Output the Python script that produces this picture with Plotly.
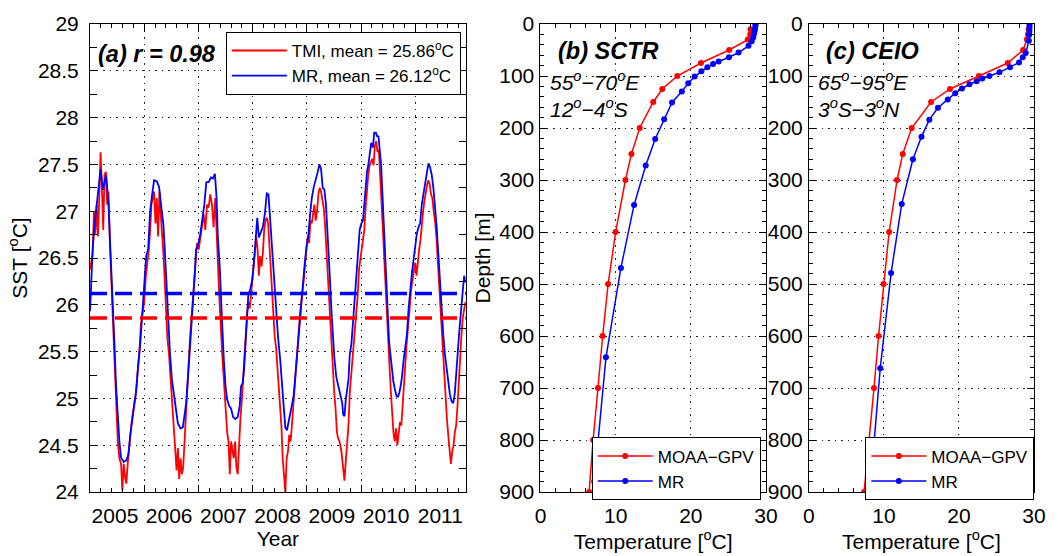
import plotly.graph_objects as go

# ---------------- Panel (a): SST time series ----------------
mr_year = [2005.000, 2005.024, 2005.049, 2005.085, 2005.122, 2005.158, 2005.195, 2005.238, 2005.299, 2005.341,
           2005.378, 2005.402, 2005.427, 2005.451, 2005.481, 2005.512, 2005.542, 2005.573, 2005.622, 2005.670,
           2005.707, 2005.743, 2005.780, 2005.817, 2005.853, 2005.890, 2005.926, 2005.963, 2006.000, 2006.036,
           2006.073, 2006.109, 2006.146, 2006.182, 2006.231, 2006.274, 2006.316, 2006.353, 2006.383, 2006.414,
           2006.444, 2006.475, 2006.511, 2006.548, 2006.584, 2006.621, 2006.670, 2006.712, 2006.743, 2006.773,
           2006.804, 2006.834, 2006.865, 2006.895, 2006.926, 2006.956, 2006.993, 2007.035, 2007.072, 2007.108,
           2007.145, 2007.188, 2007.230, 2007.267, 2007.304, 2007.334, 2007.358, 2007.395, 2007.419, 2007.444,
           2007.468, 2007.499, 2007.529, 2007.566, 2007.602, 2007.639, 2007.681, 2007.724, 2007.761, 2007.785,
           2007.815, 2007.840, 2007.864, 2007.895, 2007.919, 2007.956, 2007.992, 2008.023, 2008.053, 2008.084,
           2008.114, 2008.151, 2008.187, 2008.224, 2008.260, 2008.291, 2008.321, 2008.358, 2008.395, 2008.431,
           2008.468, 2008.504, 2008.541, 2008.571, 2008.602, 2008.632, 2008.663, 2008.693, 2008.724, 2008.754,
           2008.785, 2008.815, 2008.846, 2008.882, 2008.919, 2008.955, 2008.992, 2009.029, 2009.059, 2009.090,
           2009.127, 2009.163, 2009.200, 2009.230, 2009.261, 2009.291, 2009.322, 2009.352, 2009.377, 2009.401,
           2009.425, 2009.450, 2009.474, 2009.505, 2009.541, 2009.578, 2009.614, 2009.651, 2009.668, 2009.693,
           2009.717, 2009.741, 2009.766, 2009.790, 2009.820, 2009.851, 2009.881, 2009.912, 2009.942, 2009.973,
           2010.004, 2010.034, 2010.058, 2010.083, 2010.107, 2010.131, 2010.156, 2010.186, 2010.217, 2010.241,
           2010.272, 2010.296, 2010.320, 2010.345, 2010.369, 2010.393, 2010.418, 2010.442, 2010.466, 2010.491,
           2010.515, 2010.540, 2010.564, 2010.594, 2010.625, 2010.655, 2010.680, 2010.704, 2010.728, 2010.753,
           2010.783, 2010.814, 2010.844, 2010.875, 2010.905, 2010.936, 2010.966, 2010.997, 2011.027, 2011.058,
           2011.088, 2011.118, 2011.149, 2011.179, 2011.210, 2011.240, 2011.271, 2011.301, 2011.332, 2011.362,
           2011.393, 2011.423, 2011.454, 2011.484, 2011.515, 2011.545, 2011.576, 2011.606, 2011.637, 2011.667,
           2011.698, 2011.728, 2011.759, 2011.789, 2011.820, 2011.850, 2011.874, 2011.899, 2011.923]
mr_sst = [25.93, 26.27, 26.59, 26.86, 27.04, 27.28, 27.45, 27.23, 27.39, 27.07,
          26.59, 26.31, 26.03, 25.58, 25.13, 24.78, 24.54, 24.37, 24.32, 24.34,
          24.40, 24.61, 24.78, 24.92, 25.09, 25.37, 25.58, 25.89, 26.17, 26.52,
          26.60, 27.00, 27.18, 27.33, 27.32, 27.26, 27.04, 26.86, 26.55, 26.17,
          25.79, 25.48, 25.20, 25.02, 24.85, 24.73, 24.68, 24.69, 24.82, 24.95,
          25.20, 25.44, 25.68, 25.96, 26.27, 26.59, 26.64, 26.76, 26.90, 27.07,
          27.31, 27.31, 27.36, 27.35, 27.40, 27.14, 26.72, 26.38, 26.03, 25.68,
          25.41, 25.13, 24.99, 24.92, 24.89, 24.80, 24.78, 24.80, 24.92, 25.13,
          25.16, 25.30, 25.54, 25.89, 26.10, 26.17, 26.27, 26.45, 26.72, 26.93,
          26.72, 26.78, 26.83, 26.97, 27.19, 27.18, 26.93, 26.55, 26.20, 25.93,
          25.65, 25.44, 25.20, 24.92, 24.69, 24.66, 24.75, 24.85, 24.94, 25.02,
          25.23, 25.44, 25.68, 25.96, 26.17, 26.41, 26.62, 26.76, 26.97, 27.14,
          27.26, 27.33, 27.42, 27.50, 27.45, 27.25, 27.23, 27.07, 26.83, 26.59,
          26.27, 25.96, 25.68, 25.44, 25.23, 25.13, 25.02, 24.95, 24.83, 24.81,
          24.99, 25.11, 25.20, 25.47, 25.58, 25.82, 26.03, 26.27, 26.55, 26.80,
          26.87, 26.90, 27.07, 27.28, 27.42, 27.49, 27.63, 27.73, 27.68, 27.84,
          27.84, 27.80, 27.80, 27.66, 27.49, 27.18, 26.83, 26.48, 26.13, 25.86,
          25.61, 25.47, 25.30, 25.18, 25.09, 25.02, 25.02, 25.06, 25.13, 25.23,
          25.41, 25.55, 25.68, 25.96, 26.20, 26.34, 26.48, 26.64, 26.76, 26.83,
          26.87, 27.07, 27.18, 27.28, 27.42, 27.51, 27.47, 27.39, 27.25, 27.07,
          26.83, 26.55, 26.24, 25.96, 25.68, 25.47, 25.30, 25.15, 25.04, 24.97,
          24.95, 25.06, 25.27, 25.55, 25.79, 25.96, 26.13, 26.31, 26.24]

tmi_year = [2005.000, 2005.024, 2005.049, 2005.073, 2005.098, 2005.122, 2005.146, 2005.171, 2005.195, 2005.219,
            2005.244, 2005.268, 2005.293, 2005.317, 2005.341, 2005.366, 2005.390, 2005.420, 2005.451, 2005.481,
            2005.512, 2005.542, 2005.573, 2005.597, 2005.622, 2005.646, 2005.670, 2005.695, 2005.719, 2005.743,
            2005.768, 2005.792, 2005.817, 2005.847, 2005.877, 2005.908, 2005.938, 2005.969, 2006.000, 2006.030,
            2006.060, 2006.085, 2006.109, 2006.133, 2006.158, 2006.182, 2006.207, 2006.231, 2006.255, 2006.280,
            2006.304, 2006.328, 2006.353, 2006.377, 2006.402, 2006.426, 2006.457, 2006.487, 2006.517, 2006.548,
            2006.572, 2006.597, 2006.621, 2006.645, 2006.670, 2006.694, 2006.718, 2006.743, 2006.767, 2006.792,
            2006.822, 2006.853, 2006.883, 2006.913, 2006.944, 2006.974, 2007.005, 2007.035, 2007.066, 2007.096,
            2007.127, 2007.157, 2007.188, 2007.218, 2007.249, 2007.279, 2007.310, 2007.334, 2007.358, 2007.383,
            2007.407, 2007.438, 2007.468, 2007.499, 2007.529, 2007.554, 2007.578, 2007.602, 2007.627, 2007.651,
            2007.676, 2007.700, 2007.724, 2007.749, 2007.773, 2007.797, 2007.822, 2007.846, 2007.871, 2007.895,
            2007.919, 2007.944, 2007.968, 2007.992, 2008.017, 2008.041, 2008.066, 2008.090, 2008.114, 2008.139,
            2008.163, 2008.187, 2008.212, 2008.236, 2008.260, 2008.285, 2008.309, 2008.334, 2008.358, 2008.382,
            2008.407, 2008.431, 2008.455, 2008.480, 2008.504, 2008.529, 2008.553, 2008.577, 2008.602, 2008.626,
            2008.650, 2008.675, 2008.699, 2008.723, 2008.748, 2008.772, 2008.797, 2008.821, 2008.845, 2008.870,
            2008.894, 2008.919, 2008.943, 2008.967, 2008.992, 2009.016, 2009.040, 2009.065, 2009.089, 2009.114,
            2009.138, 2009.162, 2009.187, 2009.211, 2009.236, 2009.260, 2009.284, 2009.309, 2009.333, 2009.358,
            2009.382, 2009.406, 2009.431, 2009.455, 2009.479, 2009.504, 2009.528, 2009.553, 2009.577, 2009.601,
            2009.637, 2009.668, 2009.692, 2009.717, 2009.741, 2009.766, 2009.790, 2009.814, 2009.839, 2009.863,
            2009.888, 2009.912, 2009.936, 2009.961, 2009.985, 2010.009, 2010.034, 2010.058, 2010.083, 2010.107,
            2010.131, 2010.156, 2010.180, 2010.205, 2010.229, 2010.253, 2010.278, 2010.302, 2010.326, 2010.351,
            2010.375, 2010.399, 2010.424, 2010.448, 2010.473, 2010.497, 2010.521, 2010.546, 2010.570, 2010.595,
            2010.619, 2010.643, 2010.668, 2010.692, 2010.716, 2010.741, 2010.765, 2010.790, 2010.814, 2010.838,
            2010.869, 2010.899, 2010.924, 2010.948, 2010.972, 2010.997, 2011.021, 2011.045, 2011.070, 2011.094,
            2011.118, 2011.143, 2011.167, 2011.192, 2011.216, 2011.240, 2011.265, 2011.289, 2011.313, 2011.338,
            2011.362, 2011.387, 2011.411, 2011.435, 2011.466, 2011.496, 2011.527, 2011.557, 2011.582, 2011.606,
            2011.630, 2011.655, 2011.679, 2011.704, 2011.728, 2011.752, 2011.777, 2011.801, 2011.825, 2011.850,
            2011.874, 2011.899, 2011.923]
tmi_sst = [26.38, 26.45, 26.55, 27.00, 26.76, 27.07, 26.73, 27.14, 27.63, 27.25,
           26.80, 27.39, 27.42, 27.07, 27.21, 26.66, 26.31, 25.75, 25.23, 24.89,
           24.54, 24.36, 24.30, 24.02, 24.30, 24.16, 24.09, 24.30, 24.47, 24.61,
           24.75, 24.85, 24.96, 25.06, 25.27, 25.47, 25.79, 25.89, 26.03, 26.31,
           26.45, 26.59, 26.80, 27.07, 27.14, 27.21, 26.87, 27.14, 26.73, 27.21,
           26.97, 26.80, 26.55, 26.27, 25.89, 25.65, 25.47, 25.20, 24.92, 24.68,
           24.54, 24.23, 24.47, 24.14, 24.36, 24.19, 24.26, 24.57, 24.85, 25.09,
           25.41, 25.72, 25.96, 26.17, 26.45, 26.66, 26.59, 26.73, 26.87, 26.97,
           26.80, 27.07, 27.04, 27.18, 27.07, 26.83, 27.14, 26.66, 26.45, 26.10,
           25.75, 25.47, 25.20, 24.89, 24.64, 24.54, 24.19, 24.54, 24.43, 24.36,
           24.54, 24.26, 24.19, 24.54, 24.78, 24.96, 25.20, 25.47, 25.75, 25.89,
           26.03, 25.96, 26.10, 26.24, 26.45, 26.59, 26.73, 26.59, 26.31, 26.52,
           26.41, 26.55, 26.80, 26.90, 26.93, 26.87, 26.62, 26.38, 26.10, 25.82,
           25.65, 25.55, 25.34, 25.06, 24.85, 24.71, 24.36, 24.19, 24.00, 24.36,
           24.43, 24.61, 24.54, 24.71, 24.92, 25.13, 25.34, 25.55, 25.75, 25.89,
           26.03, 26.13, 26.27, 26.45, 26.59, 26.73, 26.66, 26.90, 26.87, 26.97,
           27.07, 26.90, 27.00, 27.18, 27.25, 27.21, 27.14, 27.04, 26.87, 26.59,
           26.31, 26.10, 25.82, 25.55, 25.27, 25.06, 24.89, 24.64, 24.57, 24.54,
           24.43, 24.26, 24.12, 24.33, 24.54, 24.71, 25.06, 25.23, 25.41, 25.55,
           25.72, 25.89, 26.10, 26.38, 26.48, 26.55, 26.66, 26.80, 27.04, 27.25,
           27.39, 27.49, 27.52, 27.56, 27.49, 27.70, 27.75, 27.63, 27.66, 27.42,
           27.14, 26.83, 26.52, 26.20, 25.89, 25.61, 25.37, 25.09, 24.85, 24.64,
           24.54, 24.68, 24.50, 24.64, 24.75, 24.71, 24.96, 25.20, 25.41, 25.58,
           25.79, 26.03, 26.17, 26.27, 26.38, 26.45, 26.31, 26.48, 26.59, 26.69,
           26.90, 27.00, 27.11, 27.21, 27.28, 27.33, 27.28, 27.18, 27.14, 27.00,
           26.90, 26.73, 26.48, 26.24, 25.89, 25.58, 25.23, 24.99, 24.78, 24.61,
           24.43, 24.30, 24.43, 24.50, 24.64, 24.71, 24.92, 25.20, 25.47, 25.68,
           25.86, 25.96, 26.03]

tmi_mean = 25.86
mr_mean = 26.12
r_value = 0.98
year_labels = [2005, 2006, 2007, 2008, 2009, 2010, 2011]

# ---------------- Panel (b): SCTR profiles ----------------
sctr_gpv_depth = [10, 20, 30, 50, 75, 100, 125, 150, 200, 250, 300, 400, 500, 600, 700, 800, 900]
sctr_gpv_temp = [27.93, 27.9, 27.57, 25.1, 21.35, 18.2, 16.2, 15.0, 13.2, 12.1, 11.3, 10.0, 9.0, 8.27, 7.65, 7.0, 6.47]
sctr_mr_depth = [0, 3, 8, 13, 19, 26, 33, 42, 55, 64, 72, 77, 83, 91, 101, 114, 130, 151, 183, 221, 272, 348, 469, 641, 880, 1150]
sctr_mr_temp = [28.6, 28.6, 28.55, 28.5, 28.4, 28.3, 28.1, 27.67, 26.35, 25.07, 23.7, 22.96, 22.2, 21.4, 20.5, 19.66,
                18.8, 17.5, 16.45, 15.26, 14.0, 12.45, 10.7, 8.71, 7.15, 5.9]

# ---------------- Panel (c): CEIO profiles ----------------
ceio_gpv_depth = [10, 20, 30, 50, 75, 100, 125, 150, 200, 250, 300, 400, 500, 600, 700, 800, 900]
ceio_gpv_temp = [29.28, 29.2, 29.05, 28.55, 26.5, 22.66, 18.8, 16.28, 13.7, 12.5, 11.75, 10.69, 9.95, 9.28, 8.67, 8.0, 7.35]
ceio_mr_depth = [0, 4, 9, 15, 21, 32, 56, 64, 74, 83, 93, 100, 105, 110, 116, 124, 133, 145, 161, 184, 217, 260, 346, 479, 662, 880, 1150]
ceio_mr_temp = [29.4, 29.4, 29.4, 29.38, 29.35, 29.32, 28.9, 28.5, 28.0, 26.8, 25.4, 24.06, 23.1, 22.35, 21.4, 20.4,
                19.5, 18.5, 17.2, 16.05, 15.0, 13.86, 12.37, 10.95, 9.5, 8.25, 7.0]

FONT = "Liberation Sans, Arial, Helvetica, sans-serif"
RED = "#ff0000"
BLUE = "#0000ff"

fig = go.Figure()

fig.add_trace(go.Scatter(x=tmi_year, y=tmi_sst, mode="lines", line=dict(color=RED, width=1.8),
                         name=f"TMI, mean = {tmi_mean:.2f}<sup>o</sup>C", xaxis="x", yaxis="y", legend="legend"))
fig.add_trace(go.Scatter(x=mr_year, y=mr_sst, mode="lines", line=dict(color=BLUE, width=1.8),
                         name=f"MR, mean = {mr_mean:.2f}<sup>o</sup>C", xaxis="x", yaxis="y", legend="legend"))
# empty helper trace so that the year-label axis (x4) is drawn
fig.add_trace(go.Scatter(x=[], y=[], xaxis="x4", yaxis="y", showlegend=False, hoverinfo="skip"))

prof_line = dict(width=1.5)
fig.add_trace(go.Scatter(x=sctr_gpv_temp, y=sctr_gpv_depth, mode="lines+markers",
                         line=dict(color=RED, **prof_line), marker=dict(color=RED, size=6),
                         name="MOAA−GPV", xaxis="x2", yaxis="y2", legend="legend2"))
fig.add_trace(go.Scatter(x=sctr_mr_temp, y=sctr_mr_depth, mode="lines+markers",
                         line=dict(color=BLUE, **prof_line), marker=dict(color=BLUE, size=6),
                         name="MR", xaxis="x2", yaxis="y2", legend="legend2"))
fig.add_trace(go.Scatter(x=ceio_gpv_temp, y=ceio_gpv_depth, mode="lines+markers",
                         line=dict(color=RED, **prof_line), marker=dict(color=RED, size=6),
                         name="MOAA−GPV", xaxis="x3", yaxis="y3", legend="legend3"))
fig.add_trace(go.Scatter(x=ceio_mr_temp, y=ceio_mr_depth, mode="lines+markers",
                         line=dict(color=BLUE, **prof_line), marker=dict(color=BLUE, size=6),
                         name="MR", xaxis="x3", yaxis="y3", legend="legend3"))

# mean lines
fig.add_shape(type="line", xref="x domain", x0=0, x1=1, yref="y", y0=tmi_mean, y1=tmi_mean,
              line=dict(color=RED, width=3.5, dash="17px,8px"))
fig.add_shape(type="line", xref="x domain", x0=0, x1=1, yref="y", y0=mr_mean, y1=mr_mean,
              line=dict(color=BLUE, width=3.5, dash="17px,8px"))

GRID = dict(showgrid=True, gridcolor="#222222", griddash="1.5px,5px", gridwidth=1)
BASE = dict(showline=True, linecolor="black", linewidth=1, mirror="allticks", ticks="inside", ticklen=7,
            tickcolor="black", tickwidth=1, zeroline=False,
            tickfont=dict(family=FONT, size=21, color="black"))
TITLEFONT = dict(family=FONT, size=21, color="black")

x_lo, x_hi = 2005.0, 2011.93
xa = dict(BASE, **GRID)
xa.update(domain=[0, 0.3981], range=[x_lo, x_hi], anchor="y", tickmode="array",
          tickvals=[y for y in year_labels[1:]], showticklabels=False,
          minor=dict(tickmode="linear", tick0=x_lo, dtick=0.2, ticks="inside", ticklen=4, tickcolor="black", showgrid=False))
xlab = dict(overlaying="x", anchor="y", range=[x_lo, x_hi], tickmode="array",
            tickvals=[y + 0.46 for y in year_labels], ticktext=[str(y) for y in year_labels],
            ticks="", showgrid=False, showline=False, zeroline=False, ticklabelstandoff=9,
            tickfont=dict(family=FONT, size=21, color="black"),
            title=dict(text="Year", font=TITLEFONT, standoff=0))
ya = dict(BASE, **GRID)
ya.update(domain=[0, 1], range=[24, 29], anchor="x", dtick=0.5, tick0=24, ticklabelstandoff=6,
          minor=dict(dtick=0.25, ticks="inside", ticklen=4, tickcolor="black", showgrid=False),
          title=dict(text="SST [<sup>o</sup>C]", font=TITLEFONT, standoff=4))

def prof_axes(dom, ytitle):
    xx = dict(BASE, **GRID)
    xx.update(domain=dom, range=[0, 30], dtick=10, tick0=0, ticklabelstandoff=5,
              minor=dict(dtick=2, ticks="inside", ticklen=4, tickcolor="black", showgrid=False),
              title=dict(text="Temperature [<sup>o</sup>C]", font=TITLEFONT, standoff=2))
    yy = dict(BASE, **GRID)
    yy.update(domain=[0, 1], range=[900, 0], dtick=100, tick0=0, ticklabelstandoff=1,
              minor=dict(dtick=20, ticks="inside", ticklen=4, tickcolor="black", showgrid=False))
    if ytitle:
        yy["title"] = dict(text=ytitle, font=TITLEFONT, standoff=2)
    return xx, yy

x2, y2 = prof_axes([0.4772, 0.7161], "Depth [m]")
x3, y3 = prof_axes([0.7616, 1.0], None)
x2["anchor"] = "y2"; y2["anchor"] = "x2"
x3["anchor"] = "y3"; y3["anchor"] = "x3"

LEG = dict(bordercolor="black", borderwidth=1, bgcolor="white", xanchor="left", yanchor="top",
           font=dict(family=FONT, size=17, color="black"), itemwidth=55, tracegroupgap=0)

fig.update_layout(
    width=1058, height=556,
    margin=dict(l=90, r=16, t=15, b=61),
    paper_bgcolor="white", plot_bgcolor="white",
    font=dict(family=FONT, color="black"),
    showlegend=True,
    xaxis=xa, yaxis=ya, xaxis4=xlab,
    xaxis2=x2, yaxis2=y2, xaxis3=x3, yaxis3=y3,
    legend=dict(LEG, x=0.1439, y=0.983),
    legend2=dict(LEG, x=0.5315, y=0.1167),
    legend3=dict(LEG, x=0.8213, y=0.1167),
)

ann = dict(showarrow=False, xanchor="left", font=dict(family=FONT, size=23.5, color="black"))
fig.add_annotation(text=f"<b><i>(a) r = {r_value:.2f}</i></b>", xref="x domain", yref="y domain",
                   x=0.016, y=0.935, yanchor="middle", **ann)
fig.add_annotation(text="<b><i>(b) SCTR</i></b>", xref="x2 domain", yref="y2 domain",
                   x=0.068, y=0.942, yanchor="middle", **ann)
fig.add_annotation(text="<b><i>(c) CEIO</i></b>", xref="x3 domain", yref="y3 domain",
                   x=0.066, y=0.942, yanchor="middle", **ann)
reg = dict(showarrow=False, xanchor="left", yanchor="top", align="left",
           font=dict(family=FONT, size=21, color="black"))
fig.add_annotation(text="<i>55<sup>o</sup>−70<sup>o</sup>E<br>12<sup>o</sup>−4<sup>o</sup>S</i>",
                   xref="x2 domain", yref="y2 domain", x=0.033, y=0.91, **reg)
fig.add_annotation(text="<i>65<sup>o</sup>−95<sup>o</sup>E<br>3<sup>o</sup>S−3<sup>o</sup>N</i>",
                   xref="x3 domain", yref="y3 domain", x=0.030, y=0.91, **reg)

fig.write_html("out.html")
